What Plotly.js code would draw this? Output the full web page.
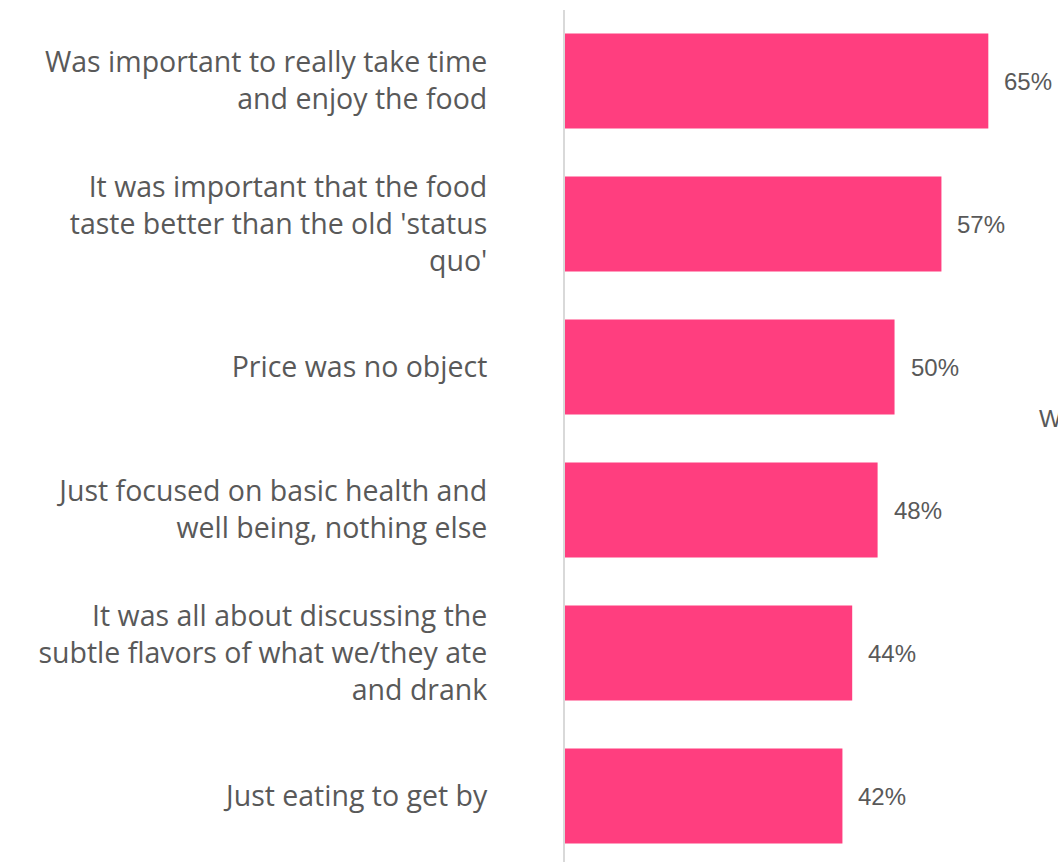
<!DOCTYPE html>
<html>
<head>
<meta charset="utf-8">
<script src="https://cdn.plot.ly/plotly-3.0.1.min.js"></script>
<style>
html,body{margin:0;padding:0;background:#fff;}
#chart{width:1058px;height:862px;}
</style>
</head>
<body>
<div id="chart"></div>
<script>
const categories = [
  "Was important to really take time<br>and enjoy the food",
  "It was important that the food<br>taste better than the old 'status<br>quo'",
  "Price was no object",
  "Just focused on basic health and<br>well being, nothing else",
  "It was all about discussing the<br>subtle flavors of what we/they ate<br>and drank",
  "Just eating to get by"
];
const values = [65, 57.8, 50.6, 48, 44.1, 42.6];
const valueLabels = ["65%", "57%", "50%", "48%", "44%", "42%"];

const trace = {
  type: 'bar',
  orientation: 'h',
  x: values,
  y: categories,
  marker: {color: '#FF3E7F'},
  width: 0.665,
  hoverinfo: 'none'
};

const annotations = values.map((v, i) => ({
  x: v, y: categories[i], xref: 'x', yref: 'y',
  text: valueLabels[i], showarrow: false, xanchor: 'left', yanchor: 'middle',
  xshift: 14,
  font: {family: 'Liberation Sans, Arial, sans-serif', size: 24, color: '#595959'}
}));
annotations.push({
  x: 0.957, y: 0.52, xref: 'paper', yref: 'paper', text: 'W', showarrow: false,
  xanchor: 'left', yanchor: 'middle',
  font: {family: 'Liberation Sans, Arial, sans-serif', size: 24, color: '#595959'}
});

const layout = {
  width: 1058, height: 862,
  margin: {l: 565, r: 0, t: 10, b: 0},
  paper_bgcolor: '#fff', plot_bgcolor: '#fff',
  showlegend: false,
  xaxis: {range: [0, 75.7], showgrid: false, zeroline: false, showticklabels: false, showline: false, fixedrange: true},
  yaxis: {
    type: 'category',
    range: [5.4615, -0.4965],
    showgrid: false, zeroline: false,
    showline: true, linecolor: '#d9d9d9', linewidth: 2,
    ticks: '', ticklabelstandoff: 70,
    tickfont: {family: '"Open Sans", sans-serif', size: 28.5, color: '#595959'},
    automargin: false
  },
  annotations: annotations
};

Plotly.newPlot('chart', [trace], layout, {displayModeBar: false, staticPlot: true});
</script>
</body>
</html>
